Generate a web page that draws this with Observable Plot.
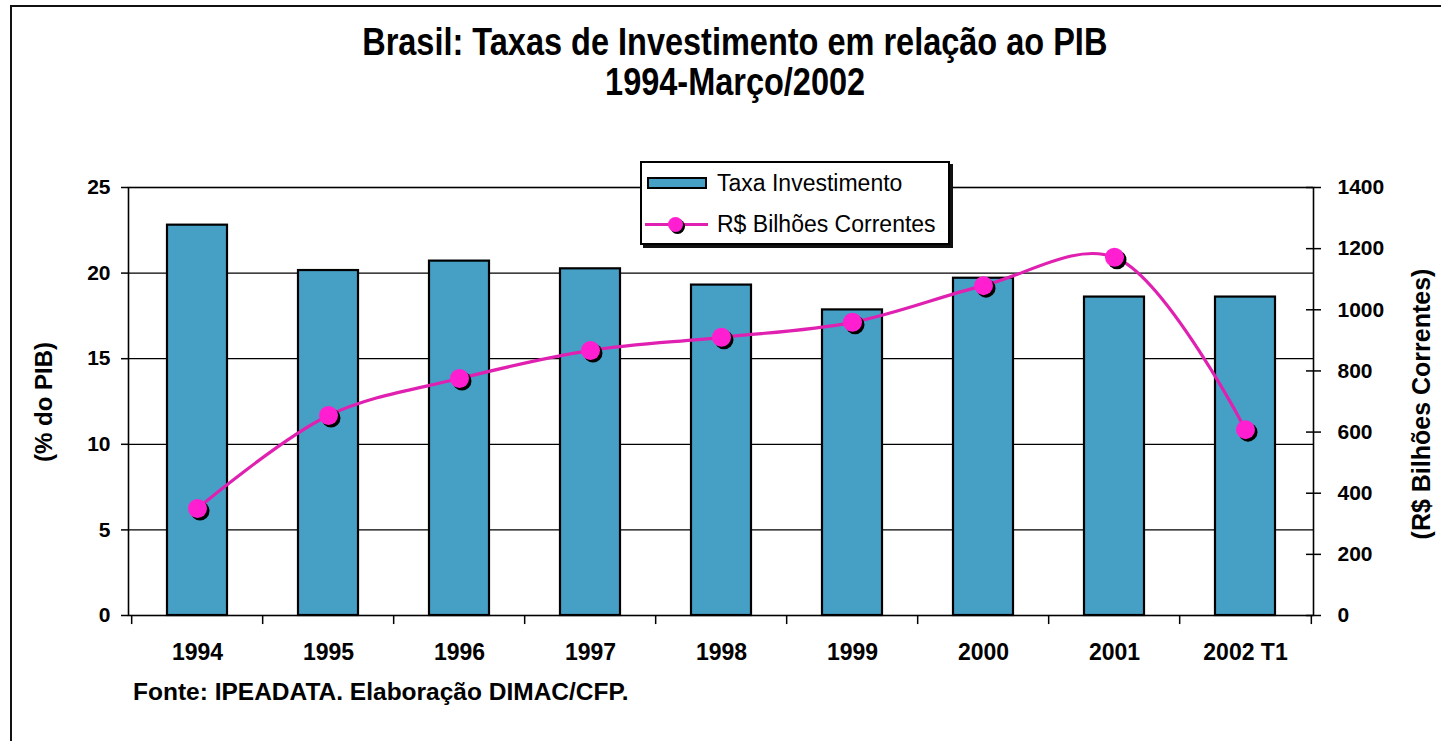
<!DOCTYPE html>
<html>
<head>
<meta charset="utf-8">
<script src="https://cdn.jsdelivr.net/npm/d3@7"></script>
<script src="https://cdn.jsdelivr.net/npm/@observablehq/plot@0.6"></script>
<style>
  html, body { margin: 0; padding: 0; background: #fff; }
  body { width: 1441px; height: 741px; position: relative; overflow: hidden;
         font-family: "Liberation Sans", Arial, sans-serif; color: #000; }
  #border { position: absolute; left: 10px; top: 5px; width: 1440px; height: 740px;
            border-left: 2px solid #111; border-top: 2px solid #111; }
  #chart { position: absolute; left: 0; top: 0; }
  .title { position: absolute; left: 0; width: 1470px; text-align: center; line-height: 1;
           font-weight: bold; font-size: 38px; white-space: nowrap; }
  .title span { display: inline-block; transform: scaleX(0.855); transform-origin: center; }
  .vlabel { position: absolute; font-weight: bold; line-height: 1; white-space: nowrap;
            transform: translate(-50%, -50%) rotate(-90deg); }
  #legend { position: absolute; left: 640px; top: 161px; width: 306px; height: 80px;
            border: 2px solid #000; background: #fff; box-shadow: 3px 3px 0 #111; }
  #legend .txt { position: absolute; left: 75px; font-size: 23px; line-height: 1; white-space: nowrap; }
  #legend .bar { position: absolute; left: 5px; top: 14px; width: 56px; height: 8px;
                 background: #46a0c6; border: 2px solid #000; }
  #legend .ln { position: absolute; left: 3px; top: 60px; width: 63px; height: 3px; background: #e020b0; }
  #legend .dt { position: absolute; left: 26px; top: 54px; width: 15px; height: 15px; border-radius: 50%;
                background: #ff1fd0; box-shadow: 2px 2px 0 #000; }
  #caption { position: absolute; left: 133px; top: 680px; font-weight: bold; font-size: 24.5px;
             line-height: 1; white-space: nowrap; }
</style>
</head>
<body>
<div id="border"></div>
<div id="chart"></div>
<div class="title" style="top:23px"><span>Brasil: Taxas de Investimento em relação ao PIB</span></div>
<div class="title" style="top:63px"><span>1994-Março/2002</span></div>
<div class="vlabel" style="left:44px; top:402px; font-size:24px">(% do PIB)</div>
<div class="vlabel" style="left:1421px; top:404px; font-size:25px">(R$ Bilhões Correntes)</div>
<div id="legend">
  <div class="bar"></div>
  <div class="txt" style="top:9px">Taxa Investimento</div>
  <div class="ln"></div>
  <div class="dt"></div>
  <div class="txt" style="top:50px">R$ Bilhões Correntes</div>
</div>
<div id="caption">Fonte: IPEADATA. Elaboração DIMAC/CFP.</div>
<script>
// ---- data ----
const categories = ["1994", "1995", "1996", "1997", "1998", "1999", "2000", "2001", "2002 T1"];
const taxaInvestimento = [22.8, 20.15, 20.7, 20.25, 19.3, 17.85, 19.7, 18.6, 18.6];   // % do PIB
const bilhoesCorrentes = [350, 654, 775, 867, 910, 959, 1079, 1172, 608];          // R$ bilhões correntes
const leftTicks = [0, 5, 10, 15, 20, 25];
const rightTicks = [0, 200, 400, 600, 800, 1000, 1200, 1400];
const gridTicks = [5, 10, 15, 20];
const leftMax = 25;
const rightMax = 1400;

// ---- layout ----
const W = 1441, H = 680;
const mL = 128, mR = 128, mT = 187, mB = 65;
const plotW = W - mL - mR;
const step = plotW / categories.length;

const toLeft = v => v * leftMax / rightMax;
const rows = categories.map((c, i) => ({
  cat: c,
  taxa: taxaInvestimento[i],
  bilhoes: bilhoesCorrentes[i],
  bilhoesL: toLeft(bilhoesCorrentes[i])
}));
const rightTicksL = rightTicks.map(toLeft);

const chart = Plot.plot({
  width: W, height: H,
  marginLeft: mL, marginRight: mR, marginTop: mT, marginBottom: mB,
  style: { background: "transparent", fontFamily: "Liberation Sans, Arial, sans-serif",
           fontSize: "21px", fontWeight: "bold", color: "#000", overflow: "visible" },
  x: { domain: categories, paddingInner: 0.545, paddingOuter: 0.2725, axis: null },
  y: { domain: [0, leftMax], axis: null },
  marks: [
    Plot.ruleY(gridTicks, { stroke: "#000", strokeWidth: 1.2 }),
    Plot.barY(rows, { x: "cat", y: "taxa", fill: "#46a0c6", stroke: "#000", strokeWidth: 2.2 }),
    Plot.frame({ stroke: "#000", strokeWidth: 1.6 }),
    // left axis
    Plot.axisY({ ticks: leftTicks, anchor: "left", tickSize: 7, tickPadding: 11, label: null,
                 strokeWidth: 1.5, fontSize: 21, fontWeight: "bold" }),
    // right axis (ticks cross the axis line)
    Plot.axisY({ ticks: rightTicksL, anchor: "right", tickSize: 7, tickPadding: 17, label: null,
                 strokeWidth: 1.5, fontSize: 21, fontWeight: "bold",
                 tickFormat: d => String(Math.round(d * rightMax / leftMax)) }),
    Plot.ruleY(rightTicksL, { insetLeft: plotW - 7, stroke: "#000", strokeWidth: 1.5 }),
    // x axis labels and tick marks at category boundaries
    Plot.axisX({ anchor: "bottom", tickSize: 0, tickPadding: 28, label: null,
                 fontSize: 23, fontWeight: "bold" }),
    Plot.ruleX(categories, { x: d => d, y1: 0, y2: -0.53, dx: -step / 2, stroke: "#000", strokeWidth: 1.5 }),
    Plot.ruleX(categories.slice(-1), { x: d => d, y1: 0, y2: -0.53, dx: step / 2, stroke: "#000", strokeWidth: 1.5 }),
    // line series (secondary axis)
    Plot.line(rows, { x: "cat", y: "bilhoesL", stroke: "#e020b0", strokeWidth: 3.2, curve: "catmull-rom" }),
    Plot.dot(rows, { x: "cat", y: "bilhoesL", r: 9.5, fill: "#000", dx: 2.5, dy: 2.5 }),
    Plot.dot(rows, { x: "cat", y: "bilhoesL", r: 9.5, fill: "#ff1fd0" })
  ]
});
document.getElementById("chart").appendChild(chart);
</script>
</body>
</html>
